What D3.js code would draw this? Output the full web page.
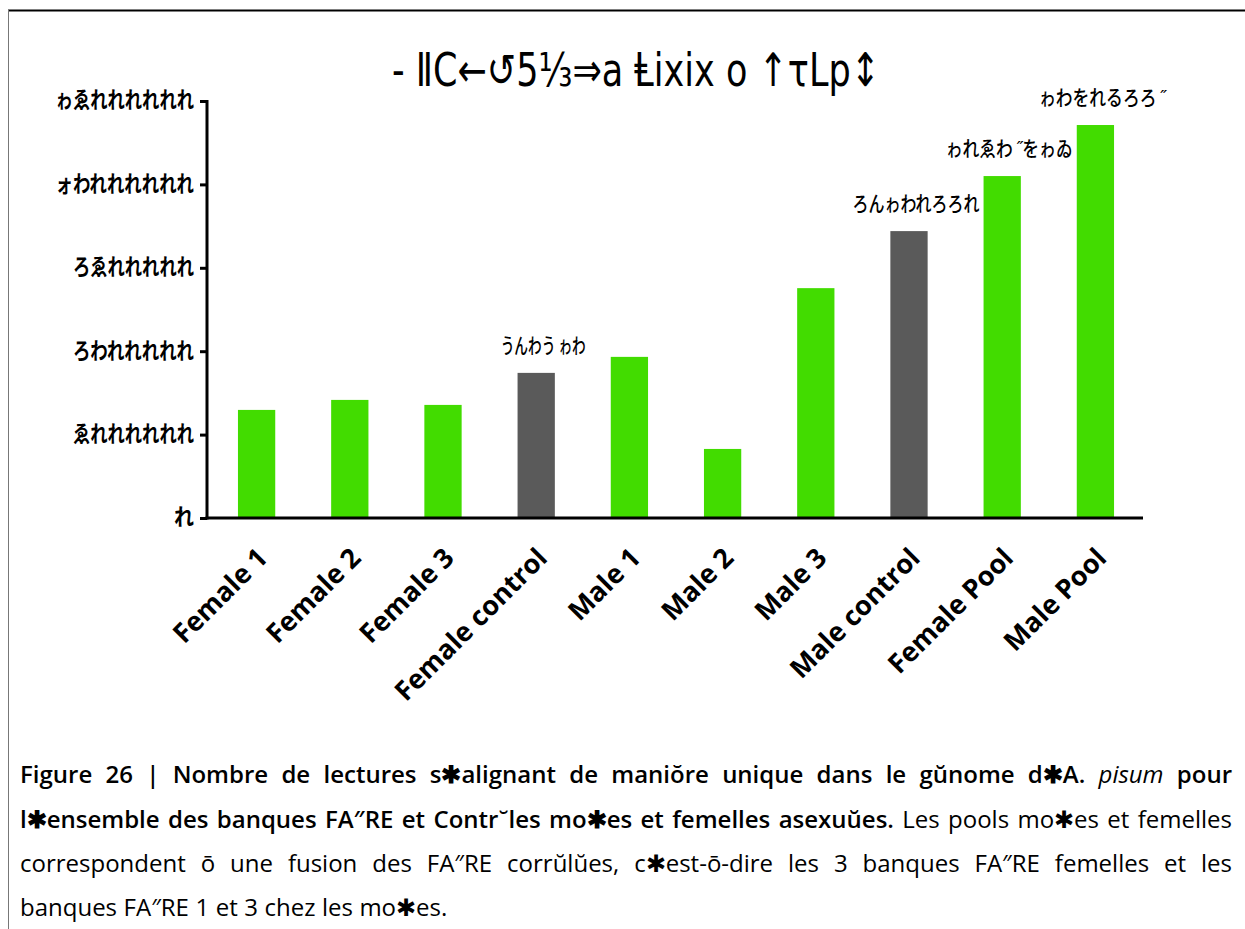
<!DOCTYPE html>
<html>
<head>
<meta charset="utf-8">
<script src="https://cdn.jsdelivr.net/npm/d3@7/dist/d3.min.js"></script>
<style>
  html, body { margin: 0; padding: 0; background: #fff; }
  svg { display: block; }
</style>
</head>
<body>
<svg id="chart" width="1245" height="929"></svg>
<script>
// Libraries and their read counts
const categories = ["Female 1", "Female 2", "Female 3", "Female control", "Male 1",
                    "Male 2", "Male 3", "Male control", "Female Pool", "Male Pool"];
const readCounts = [3240000, 3540000, 3390000, 4350000, 4830000,
                    2070000, 6890000, 8600000, 10250000, 11780000];
const isControl = [false, false, false, true, false, false, false, true, false, false];
const valueLabels = [null, null, null, "うんわう ゎわ", null,
                     null, null, "ろんゎわれろろれ", "ゎれゑわ ˝をゎゐ", "ゎわをれるろろ ˝"];
const tickValues = [0, 2500000, 5000000, 7500000, 10000000, 12500000];
const tickLabels = ["れ", "ゑれれれれれれ", "ろわれれれれれ", "ろゑれれれれれ", "ォわれれれれれれ", "ゎゑれれれれれれ"];
const titleText = "-  ⅡC←↺5⅓⇒a Ⱡixix o ↑τLp↕";

const captionLines = [
  [{t: "Figure 26 | Nombre de lectures s✱alignant de maniŏre unique dans le gŭnome d✱A.", w: 600, s: "normal"},
   {t: "pisum", w: 400, s: "italic"},
   {t: "pour", w: 600, s: "normal"}],
  [{t: "l✱ensemble des banques FA″RE et Contr˘les mo✱es et femelles asexuŭes.", w: 600, s: "normal"},
   {t: "Les pools mo✱es et femelles", w: 400, s: "normal"}],
  [{t: "correspondent ō une fusion des FA″RE corrŭlŭes, c✱est-ō-dire les 3 banques FA″RE femelles et les", w: 400, s: "normal"}],
  [{t: "banques FA″RE 1 et 3 chez les mo✱es.", w: 400, s: "normal"}]
];

const GREEN = "#42dc00";
const GREY = "#5a5a5a";

const svg = d3.select("#chart");

// frame
svg.append("line").attr("x1", 8).attr("x2", 1245).attr("y1", 10.5).attr("y2", 10.5)
  .attr("stroke", "#000").attr("stroke-width", 2);
svg.append("line").attr("x1", 8.5).attr("x2", 8.5).attr("y1", 10).attr("y2", 929)
  .attr("stroke", "#777").attr("stroke-width", 1);

const x = d3.scaleBand().domain(categories).range([210, 1142])
  .paddingInner(0.6).paddingOuter(0.3);
const y = d3.scaleLinear().domain([0, 12500000]).range([518, 101]);

// bars
svg.append("g").selectAll("rect").data(categories).join("rect")
  .attr("x", d => x(d))
  .attr("width", x.bandwidth())
  .attr("y", (d, i) => y(readCounts[i]))
  .attr("height", (d, i) => y(0) - y(readCounts[i]))
  .attr("fill", (d, i) => isControl[i] ? GREY : GREEN);

// value labels
svg.append("g").selectAll("text").data(categories.map((c, i) => ({c, i})).filter(d => valueLabels[d.i]))
  .join("text")
  .attr("x", d => x(d.c) + x.bandwidth() / 2 + 7)
  .attr("y", d => y(readCounts[d.i]) - 20)
  .attr("text-anchor", "middle")
  .attr("font-family", "'Noto Sans CJK JP', sans-serif")
  .attr("font-weight", 500)
  .attr("font-size", 21)
  .attr("textLength", d => d.i === 3 ? 85 : 127)
  .attr("lengthAdjust", "spacingAndGlyphs")
  .text(d => valueLabels[d.i]);

// y axis
const yAxis = d3.axisLeft(y).tickValues(tickValues).tickSize(7)
  .tickFormat((d, i) => tickLabels[i]);
const gy = svg.append("g").attr("transform", "translate(207,0)").call(yAxis);
gy.select(".domain").attr("stroke", "#000").attr("stroke-width", 3)
  .attr("d", `M0,${y(12500000) - 1}V${y(0) + 1.5}`);
gy.selectAll(".tick line").attr("stroke", "#000").attr("stroke-width", 3);
gy.selectAll(".tick text")
  .attr("x", -13)
  .attr("dy", "0.3em")
  .attr("font-family", "'Noto Sans CJK JP', sans-serif")
  .attr("font-weight", 700)
  .attr("font-size", 23)
  .attr("fill", "#000")
  .attr("textLength", (d, i) => i === 0 ? 20 : (tickLabels[i].length * 17.3))
  .attr("lengthAdjust", "spacingAndGlyphs");

// x axis
const xAxis = d3.axisBottom(x).tickSize(0).tickFormat("");
const gx = svg.append("g").attr("transform", `translate(0,${y(0)})`).call(xAxis);
gx.select(".domain").attr("stroke", "#000").attr("stroke-width", 3)
  .attr("d", "M205.5,0H1143");

// category labels
svg.append("g").selectAll("text").data(categories).join("text")
  .attr("transform", d => `translate(${x(d) + x.bandwidth() / 2 + 6},${553}) rotate(-45)`)
  .attr("text-anchor", "end")
  .attr("dy", "0.35em")
  .attr("font-family", "'Open Sans', sans-serif")
  .attr("font-weight", 700)
  .attr("font-size", 27)
  .attr("fill", "#000")
  .text(d => d);

// title
svg.append("text")
  .attr("x", 636).attr("y", 86)
  .attr("text-anchor", "middle")
  .attr("font-family", "'DejaVu Sans', sans-serif")
  .attr("font-size", 46)
  .attr("textLength", 488)
  .attr("lengthAdjust", "spacingAndGlyphs")
  .text(titleText);

// caption, justified word by word
const cap = svg.append("g")
  .attr("font-family", "'Open Sans', sans-serif")
  .attr("font-size", 24)
  .attr("fill", "#000");
const baselines = [783, 828, 872, 916];
captionLines.forEach((segs, li) => {
  const words = [];
  segs.forEach(s => s.t.split(" ").filter(Boolean)
    .forEach(w => words.push({t: w, w: s.w, s: s.s})));
  const nodes = words.map(w => cap.append("text")
    .attr("y", baselines[li])
    .attr("font-weight", w.w)
    .attr("font-style", w.s)
    .text(w.t));
  const widths = nodes.map(n => n.node().getComputedTextLength());
  const total = d3.sum(widths);
  const justify = li < captionLines.length - 1;
  const gap = justify ? (1232 - 20 - total) / (words.length - 1) : 6.5;
  let cx = 20;
  nodes.forEach((n, i) => { n.attr("x", cx); cx += widths[i] + gap; });
});
</script>
</body>
</html>
